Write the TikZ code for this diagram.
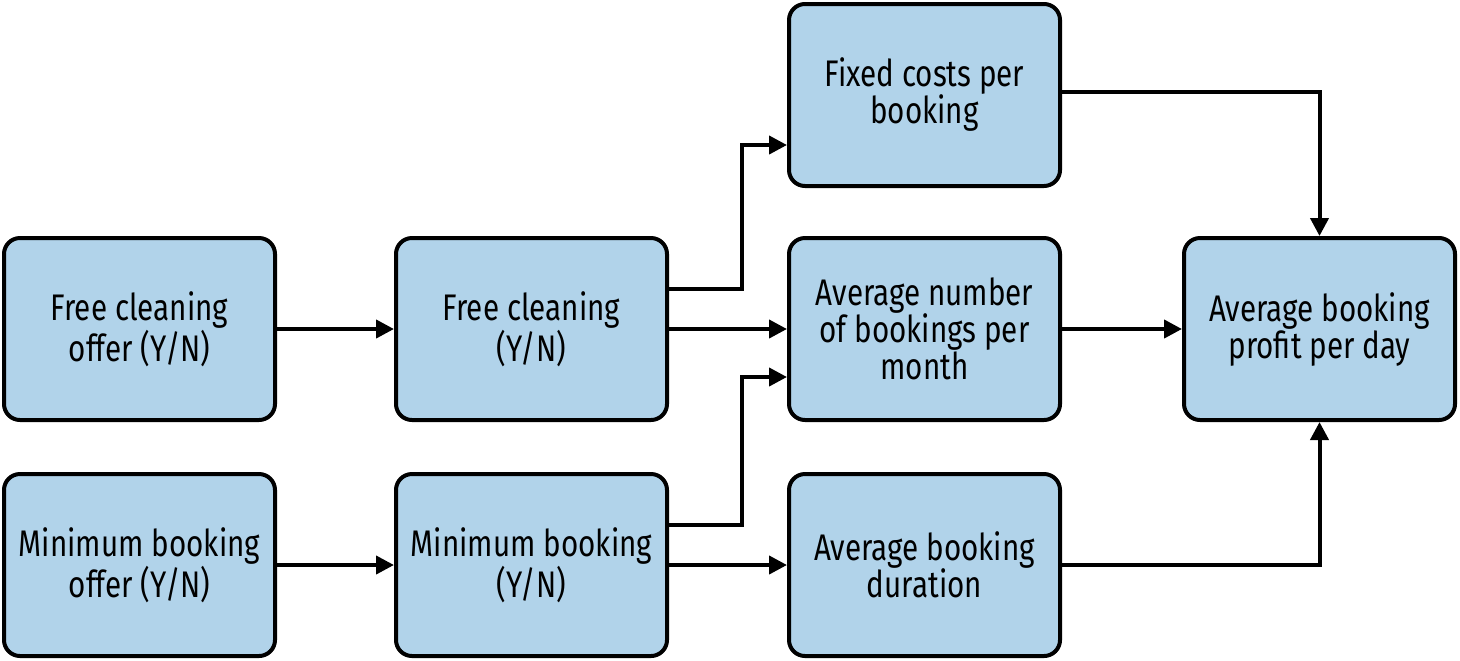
\documentclass[tikz,border=0pt]{standalone}
\usepackage{fontspec}
\setmainfont{Fira Sans}[FakeStretch=0.8]
\usetikzlibrary{arrows.meta,calc}
\definecolor{boxfill}{HTML}{B1D3EA}
\begin{document}
\begin{tikzpicture}[x=0.5pt,y=-0.5pt,
  box/.style={draw=black,fill=boxfill,line width=2pt,rounded corners=8pt,
    minimum width=135.5pt,minimum height=91pt,align=center,inner sep=2pt,
    font=\fontsize{18.5pt}{18.5pt}\selectfont},
  arr/.style={line width=2pt,-{Triangle[length=9pt,width=9pt]}}]
\useasboundingbox (0,0) rectangle (1460,660);
\node[box] (A) at (139.5,329) {Free cleaning\\offer (Y/N)};
\node[box] (B) at (531.5,329) {Free cleaning\\(Y/N)};
\node[box] (C) at (924.5,95) {Fixed costs per\\booking};
\node[box] (D) at (924.5,329) {Average number\\of bookings per\\month};
\node[box] (E) at (1319.5,329) {Average booking\\profit per day};
\node[box] (F) at (139.5,565) {Minimum booking\\offer (Y/N)};
\node[box] (G) at (531.5,565) {Minimum booking\\(Y/N)};
\node[box] (H) at (924.5,565) {Average booking\\duration};
\draw[arr] (A) -- (B);
\draw[arr] (F) -- (G);
\draw[arr] (G) -- (H);
\draw[arr] (B) -- (D);
\draw[arr] (D) -- (E);
\draw[arr] ([yshift=20pt]B.east) -- ++(36.5pt,0) |- ([yshift=-25pt]C.west);
\draw[arr] ([yshift=20pt]G.east) -- ++(36.5pt,0) |- ([yshift=-24pt]D.west);
\draw[arr] ([yshift=1.5pt]C.east) -| (E.north);
\draw[arr] (H.east) -| (E.south);
\end{tikzpicture}
\end{document}
